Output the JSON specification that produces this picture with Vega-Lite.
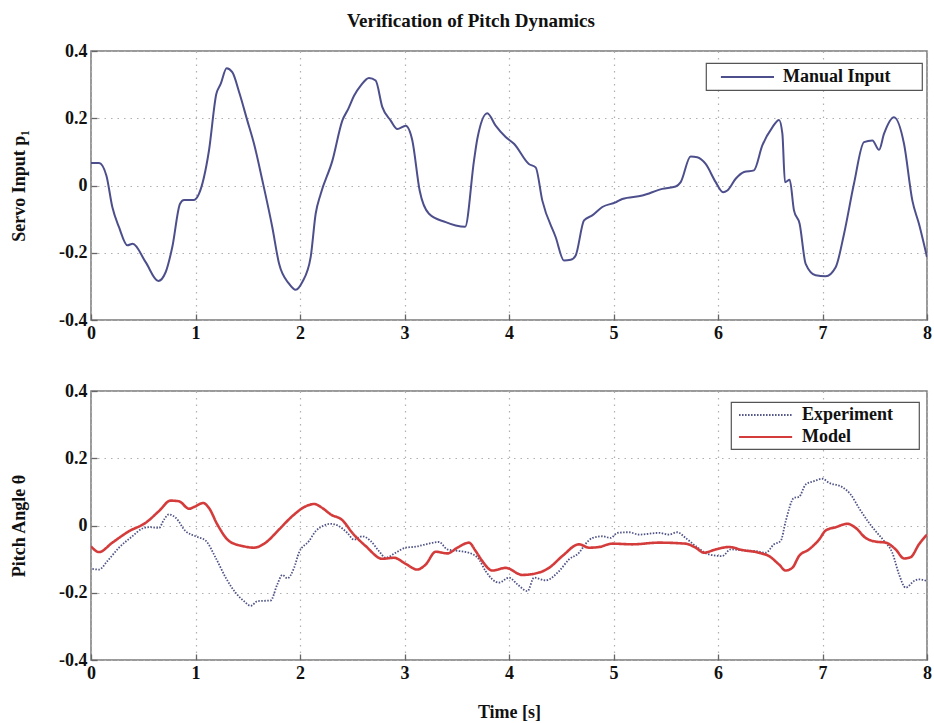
{
  "$schema": "https://vega.github.io/schema/vega-lite/v6.json",
  "padding": {"left": 9, "top": 12, "right": 0, "bottom": 5},
  "background": "white",
  "title": {"text": "Verification of Pitch Dynamics", "font": "Liberation Serif", "fontSize": 19, "fontWeight": "bold", "color": "#111", "anchor": "middle", "offset": 10},
  "config": {
    "view": {"stroke": "#7a7a7a", "strokeWidth": 1.5},
    "axis": {
      "labelFont": "Liberation Serif", "labelFontSize": 18, "labelFontWeight": "bold", "labelColor": "#111", "labelFlush": false, "labelOverlap": false,
      "titleFont": "Liberation Serif", "titleFontSize": 18, "titleFontWeight": "bold", "titleColor": "#111",
      "domain": false, "grid": true, "gridColor": "#b0b0b0", "gridDash": [1.5, 5], "gridWidth": 1.2,
      "ticks": true, "tickColor": "#666", "tickSize": -6, "tickWidth": 1.3, "labelPadding": 10
    },
    "legend": {
      "labelFont": "Liberation Serif", "labelFontSize": 18, "labelFontWeight": "bold", "labelColor": "#111",
      "fillColor": "white", "strokeColor": "#555", "strokeWidth": 1.2, "cornerRadius": 0,
      "orient": "none", "title": null
    }
  },
  "datasets": {
    "servo": [
      {"t":0,"v":0.067},{"t":0.077,"v":0.067},{"t":0.147,"v":0.03},{"t":0.204,"v":-0.064},{"t":0.268,"v":-0.124},{"t":0.348,"v":-0.178},{"t":0.4,"v":-0.173},{"t":0.523,"v":-0.228},{"t":0.644,"v":-0.284},{"t":0.714,"v":-0.258},{"t":0.778,"v":-0.183},{"t":0.852,"v":-0.054},{"t":0.89,"v":-0.043},{"t":0.986,"v":-0.043},{"t":1.033,"v":-0.025},{"t":1.129,"v":0.104},{"t":1.199,"v":0.272},{"t":1.241,"v":0.302},{"t":1.298,"v":0.349},{"t":1.352,"v":0.337},{"t":1.423,"v":0.272},{"t":1.496,"v":0.193},{"t":1.56,"v":0.124},{"t":1.64,"v":0.015},{"t":1.735,"v":-0.124},{"t":1.8,"v":-0.233},{"t":1.895,"v":-0.292},{"t":1.959,"v":-0.31},{"t":2.022,"v":-0.287},{"t":2.102,"v":-0.213},{"t":2.15,"v":-0.084},{"t":2.198,"v":-0.025},{"t":2.31,"v":0.074},{"t":2.405,"v":0.193},{"t":2.462,"v":0.228},{"t":2.517,"v":0.267},{"t":2.581,"v":0.297},{"t":2.66,"v":0.32},{"t":2.724,"v":0.312},{"t":2.788,"v":0.233},{"t":2.868,"v":0.193},{"t":2.931,"v":0.168},{"t":3.012,"v":0.178},{"t":3.075,"v":0.134},{"t":3.145,"v":-0.015},{"t":3.234,"v":-0.084},{"t":3.394,"v":-0.109},{"t":3.49,"v":-0.119},{"t":3.58,"v":-0.123},{"t":3.665,"v":0.074},{"t":3.697,"v":0.139},{"t":3.792,"v":0.215},{"t":3.872,"v":0.178},{"t":3.968,"v":0.144},{"t":4.048,"v":0.124},{"t":4.19,"v":0.064},{"t":4.255,"v":0.054},{"t":4.319,"v":-0.045},{"t":4.447,"v":-0.154},{"t":4.526,"v":-0.223},{"t":4.59,"v":-0.221},{"t":4.638,"v":-0.208},{"t":4.718,"v":-0.104},{"t":4.797,"v":-0.089},{"t":4.893,"v":-0.064},{"t":5.02,"v":-0.05},{"t":5.084,"v":-0.04},{"t":5.276,"v":-0.03},{"t":5.467,"v":-0.01},{"t":5.595,"v":-0.003},{"t":5.643,"v":0.01},{"t":5.738,"v":0.086},{"t":5.802,"v":0.084},{"t":5.882,"v":0.064},{"t":5.978,"v":0.01},{"t":6.048,"v":-0.02},{"t":6.089,"v":-0.015},{"t":6.169,"v":0.02},{"t":6.249,"v":0.04},{"t":6.344,"v":0.045},{"t":6.424,"v":0.119},{"t":6.52,"v":0.173},{"t":6.584,"v":0.195},{"t":6.616,"v":0.154},{"t":6.641,"v":0.01},{"t":6.686,"v":0.017},{"t":6.727,"v":-0.074},{"t":6.781,"v":-0.114},{"t":6.839,"v":-0.233},{"t":6.934,"v":-0.267},{"t":7.03,"v":-0.27},{"t":7.126,"v":-0.243},{"t":7.206,"v":-0.144},{"t":7.301,"v":0.005},{"t":7.397,"v":0.129},{"t":7.477,"v":0.134},{"t":7.541,"v":0.106},{"t":7.589,"v":0.154},{"t":7.684,"v":0.203},{"t":7.78,"v":0.124},{"t":7.86,"v":-0.045},{"t":7.923,"v":-0.114},{"t":8.0,"v":-0.213}
    ],
    "pitch": [
      {"s":"Experiment","t":0.013,"v":-0.129},{"s":"Experiment","t":0.077,"v":-0.131},{"s":"Experiment","t":0.156,"v":-0.106},{"s":"Experiment","t":0.268,"v":-0.066},{"s":"Experiment","t":0.396,"v":-0.032},{"s":"Experiment","t":0.491,"v":-0.009},{"s":"Experiment","t":0.555,"v":-0.005},{"s":"Experiment","t":0.651,"v":-0.007},{"s":"Experiment","t":0.699,"v":0.018},{"s":"Experiment","t":0.746,"v":0.033},{"s":"Experiment","t":0.81,"v":0.023},{"s":"Experiment","t":0.906,"v":-0.017},{"s":"Experiment","t":1.0,"v":-0.032},{"s":"Experiment","t":1.097,"v":-0.045},{"s":"Experiment","t":1.193,"v":-0.096},{"s":"Experiment","t":1.289,"v":-0.155},{"s":"Experiment","t":1.384,"v":-0.2},{"s":"Experiment","t":1.464,"v":-0.225},{"s":"Experiment","t":1.528,"v":-0.239},{"s":"Experiment","t":1.592,"v":-0.225},{"s":"Experiment","t":1.719,"v":-0.223},{"s":"Experiment","t":1.783,"v":-0.175},{"s":"Experiment","t":1.831,"v":-0.147},{"s":"Experiment","t":1.879,"v":-0.157},{"s":"Experiment","t":1.943,"v":-0.126},{"s":"Experiment","t":1.99,"v":-0.081},{"s":"Experiment","t":2.086,"v":-0.046},{"s":"Experiment","t":2.15,"v":-0.017},{"s":"Experiment","t":2.23,"v":0.0},{"s":"Experiment","t":2.293,"v":0.005},{"s":"Experiment","t":2.373,"v":-0.002},{"s":"Experiment","t":2.453,"v":-0.022},{"s":"Experiment","t":2.517,"v":-0.042},{"s":"Experiment","t":2.596,"v":-0.032},{"s":"Experiment","t":2.676,"v":-0.046},{"s":"Experiment","t":2.756,"v":-0.076},{"s":"Experiment","t":2.82,"v":-0.096},{"s":"Experiment","t":2.915,"v":-0.081},{"s":"Experiment","t":3.011,"v":-0.066},{"s":"Experiment","t":3.107,"v":-0.063},{"s":"Experiment","t":3.203,"v":-0.056},{"s":"Experiment","t":3.33,"v":-0.049},{"s":"Experiment","t":3.41,"v":-0.071},{"s":"Experiment","t":3.522,"v":-0.076},{"s":"Experiment","t":3.617,"v":-0.081},{"s":"Experiment","t":3.713,"v":-0.101},{"s":"Experiment","t":3.777,"v":-0.136},{"s":"Experiment","t":3.904,"v":-0.17},{"s":"Experiment","t":4.0,"v":-0.155},{"s":"Experiment","t":4.08,"v":-0.175},{"s":"Experiment","t":4.177,"v":-0.195},{"s":"Experiment","t":4.24,"v":-0.155},{"s":"Experiment","t":4.351,"v":-0.163},{"s":"Experiment","t":4.478,"v":-0.136},{"s":"Experiment","t":4.574,"v":-0.101},{"s":"Experiment","t":4.67,"v":-0.081},{"s":"Experiment","t":4.734,"v":-0.054},{"s":"Experiment","t":4.798,"v":-0.037},{"s":"Experiment","t":4.893,"v":-0.032},{"s":"Experiment","t":4.973,"v":-0.037},{"s":"Experiment","t":5.037,"v":-0.022},{"s":"Experiment","t":5.148,"v":-0.02},{"s":"Experiment","t":5.244,"v":-0.027},{"s":"Experiment","t":5.435,"v":-0.022},{"s":"Experiment","t":5.531,"v":-0.027},{"s":"Experiment","t":5.611,"v":-0.02},{"s":"Experiment","t":5.69,"v":-0.037},{"s":"Experiment","t":5.786,"v":-0.061},{"s":"Experiment","t":5.914,"v":-0.086},{"s":"Experiment","t":6.04,"v":-0.091},{"s":"Experiment","t":6.121,"v":-0.071},{"s":"Experiment","t":6.233,"v":-0.074},{"s":"Experiment","t":6.36,"v":-0.076},{"s":"Experiment","t":6.456,"v":-0.081},{"s":"Experiment","t":6.536,"v":-0.056},{"s":"Experiment","t":6.6,"v":-0.046},{"s":"Experiment","t":6.648,"v":0.013},{"s":"Experiment","t":6.727,"v":0.082},{"s":"Experiment","t":6.775,"v":0.085},{"s":"Experiment","t":6.839,"v":0.122},{"s":"Experiment","t":6.919,"v":0.132},{"s":"Experiment","t":6.999,"v":0.139},{"s":"Experiment","t":7.062,"v":0.127},{"s":"Experiment","t":7.19,"v":0.114},{"s":"Experiment","t":7.27,"v":0.092},{"s":"Experiment","t":7.349,"v":0.052},{"s":"Experiment","t":7.445,"v":0.008},{"s":"Experiment","t":7.509,"v":-0.017},{"s":"Experiment","t":7.589,"v":-0.046},{"s":"Experiment","t":7.668,"v":-0.081},{"s":"Experiment","t":7.732,"v":-0.145},{"s":"Experiment","t":7.796,"v":-0.185},{"s":"Experiment","t":7.876,"v":-0.165},{"s":"Experiment","t":7.923,"v":-0.16},{"s":"Experiment","t":8.0,"v":-0.165},
      {"s":"Model","t":0.0,"v":-0.062},{"s":"Model","t":0.077,"v":-0.079},{"s":"Model","t":0.204,"v":-0.051},{"s":"Model","t":0.364,"v":-0.017},{"s":"Model","t":0.523,"v":0.008},{"s":"Model","t":0.651,"v":0.043},{"s":"Model","t":0.762,"v":0.074},{"s":"Model","t":0.842,"v":0.072},{"s":"Model","t":0.938,"v":0.05},{"s":"Model","t":1.0,"v":0.057},{"s":"Model","t":1.072,"v":0.067},{"s":"Model","t":1.129,"v":0.052},{"s":"Model","t":1.209,"v":0.003},{"s":"Model","t":1.321,"v":-0.046},{"s":"Model","t":1.448,"v":-0.061},{"s":"Model","t":1.56,"v":-0.066},{"s":"Model","t":1.671,"v":-0.051},{"s":"Model","t":1.799,"v":-0.012},{"s":"Model","t":1.927,"v":0.028},{"s":"Model","t":2.054,"v":0.057},{"s":"Model","t":2.134,"v":0.064},{"s":"Model","t":2.214,"v":0.052},{"s":"Model","t":2.293,"v":0.033},{"s":"Model","t":2.405,"v":0.016},{"s":"Model","t":2.501,"v":-0.022},{"s":"Model","t":2.628,"v":-0.061},{"s":"Model","t":2.788,"v":-0.099},{"s":"Model","t":2.9,"v":-0.096},{"s":"Model","t":3.011,"v":-0.114},{"s":"Model","t":3.123,"v":-0.131},{"s":"Model","t":3.203,"v":-0.116},{"s":"Model","t":3.298,"v":-0.078},{"s":"Model","t":3.41,"v":-0.083},{"s":"Model","t":3.506,"v":-0.066},{"s":"Model","t":3.617,"v":-0.051},{"s":"Model","t":3.681,"v":-0.076},{"s":"Model","t":3.745,"v":-0.106},{"s":"Model","t":3.84,"v":-0.134},{"s":"Model","t":3.968,"v":-0.126},{"s":"Model","t":4.128,"v":-0.147},{"s":"Model","t":4.287,"v":-0.14},{"s":"Model","t":4.383,"v":-0.126},{"s":"Model","t":4.51,"v":-0.091},{"s":"Model","t":4.67,"v":-0.056},{"s":"Model","t":4.766,"v":-0.066},{"s":"Model","t":4.861,"v":-0.064},{"s":"Model","t":4.989,"v":-0.054},{"s":"Model","t":5.18,"v":-0.056},{"s":"Model","t":5.435,"v":-0.051},{"s":"Model","t":5.69,"v":-0.054},{"s":"Model","t":5.786,"v":-0.066},{"s":"Model","t":5.866,"v":-0.081},{"s":"Model","t":5.978,"v":-0.071},{"s":"Model","t":6.105,"v":-0.064},{"s":"Model","t":6.233,"v":-0.073},{"s":"Model","t":6.392,"v":-0.081},{"s":"Model","t":6.488,"v":-0.091},{"s":"Model","t":6.584,"v":-0.116},{"s":"Model","t":6.648,"v":-0.134},{"s":"Model","t":6.711,"v":-0.126},{"s":"Model","t":6.775,"v":-0.091},{"s":"Model","t":6.871,"v":-0.071},{"s":"Model","t":6.967,"v":-0.042},{"s":"Model","t":7.03,"v":-0.015},{"s":"Model","t":7.126,"v":-0.005},{"s":"Model","t":7.238,"v":0.005},{"s":"Model","t":7.317,"v":-0.007},{"s":"Model","t":7.413,"v":-0.037},{"s":"Model","t":7.509,"v":-0.048},{"s":"Model","t":7.605,"v":-0.051},{"s":"Model","t":7.7,"v":-0.071},{"s":"Model","t":7.78,"v":-0.098},{"s":"Model","t":7.844,"v":-0.094},{"s":"Model","t":7.923,"v":-0.056},{"s":"Model","t":8.0,"v":-0.027}
    ]
  },
  "vconcat": [
    {
      "width": 836, "height": 269,
      "data": {"name": "servo"},
      "mark": {"type": "line", "interpolate": "monotone", "strokeWidth": 2, "clip": true},
      "encoding": {
        "x": {"field": "t", "type": "quantitative", "scale": {"domain": [0, 8], "nice": false}, "axis": {"title": null, "values": [0,1,2,3,4,5,6,7,8], "format": "d"}},
        "y": {"field": "v", "type": "quantitative", "scale": {"domain": [-0.4, 0.4], "nice": false}, "axis": {"title": "Servo Input p₁", "values": [-0.4,-0.2,0,0.2,0.4], "labelExpr": "datum.value == 0 ? '0' : replace(format(datum.value, '.1f'), '−', '-')", "titlePadding": 30}},
        "color": {"datum": "Manual Input", "type": "nominal", "scale": {"domain": ["Manual Input"], "range": ["#4d4f8c"]}, "legend": {"legendX": 615, "legendY": 12, "symbolType": "M0.1,0H6", "symbolSize": 324, "symbolStrokeWidth": 2, "labelOffset": 53, "padding": 4, "labelExpr": "datum.label + '\u00a0\u00a0\u00a0\u00a0\u00a0\u00a0\u200b'"}}
      }
    },
    {
      "width": 836, "height": 269,
      "data": {"name": "pitch"},
      "mark": {"type": "line", "interpolate": "monotone", "clip": true},
      "encoding": {
        "x": {"field": "t", "type": "quantitative", "scale": {"domain": [0, 8], "nice": false}, "axis": {"title": "Time [s]", "values": [0,1,2,3,4,5,6,7,8], "format": "d", "titlePadding": 21}},
        "y": {"field": "v", "type": "quantitative", "scale": {"domain": [-0.4, 0.4], "nice": false}, "axis": {"title": "Pitch Angle θ", "values": [-0.4,-0.2,0,0.2,0.4], "labelExpr": "datum.value == 0 ? '0' : replace(format(datum.value, '.1f'), '−', '-')", "titlePadding": 30}},
        "color": {"field": "s", "type": "nominal", "scale": {"domain": ["Experiment", "Model"], "range": ["#4f5385", "#d43c3c"]}, "legend": {"legendX": 640, "legendY": 11, "symbolType": "M-0.55,0H5.35", "symbolSize": 324, "symbolStrokeWidth": 2, "labelOffset": 48, "padding": 3, "rowPadding": 3, "labelExpr": "datum.label + '\u00a0\u00a0\u00a0\u00a0\u00a0\u200b'"}},
        "strokeDash": {"field": "s", "type": "nominal", "scale": {"domain": ["Experiment", "Model"], "range": [[1.5, 1.5], [1, 0]]}, "legend": {"legendX": 640, "legendY": 11, "symbolType": "M-0.55,0H5.35", "symbolSize": 324, "symbolStrokeWidth": 2, "labelOffset": 48, "padding": 3, "rowPadding": 3, "labelExpr": "datum.label + '\u00a0\u00a0\u00a0\u00a0\u00a0\u200b'"}},
        "strokeWidth": {"field": "s", "type": "nominal", "scale": {"domain": ["Experiment", "Model"], "range": [1.8, 2.6]}, "legend": null}
      }
    }
  ],
  "spacing": 71,
  "bounds": "flush",
  "resolve": {"scale": {"color": "independent", "strokeDash": "independent", "x": "independent", "y": "independent"}, "legend": {"color": "independent", "strokeDash": "independent"}}
}
